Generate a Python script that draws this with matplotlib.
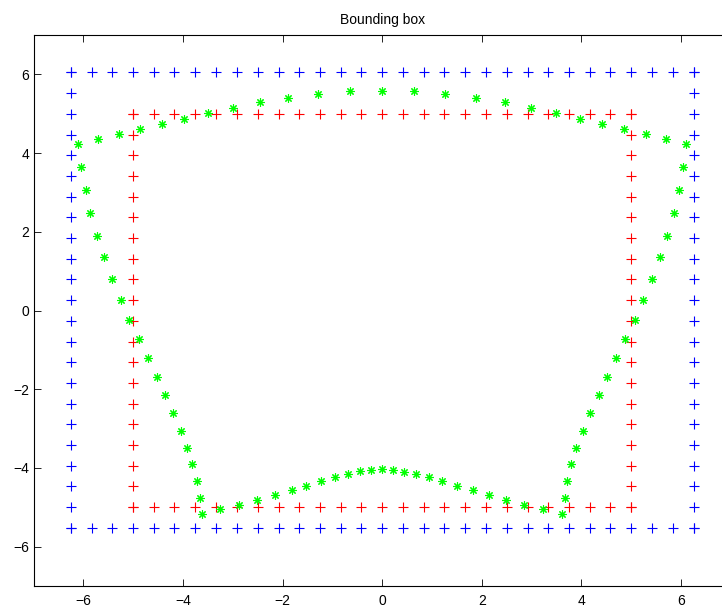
import numpy as np
import matplotlib
matplotlib.use("Agg")
import matplotlib.pyplot as plt

plt.rcParams['font.family'] = ['Liberation Sans', 'DejaVu Sans']

# Red (inner) bounding box: sample positions along horizontal and vertical edges
red_x = [-5.00, -4.58, -4.17, -3.75, -3.33, -2.92, -2.50, -2.08, -1.67, -1.25,
         -0.83, -0.42, 0.00, 0.42, 0.83, 1.25, 1.67, 2.08, 2.50, 2.92,
         3.33, 3.75, 4.17, 4.58, 5.00]
red_y = [-5.00, -4.47, -3.95, -3.42, -2.89, -2.37, -1.84, -1.32, -0.79, -0.26,
         0.26, 0.79, 1.32, 1.84, 2.37, 2.89, 3.42, 3.95, 4.47, 5.00]

# Blue (outer) bounding box
blue_x = [-6.25, -5.83, -5.42, -5.00, -4.58, -4.17, -3.75, -3.33, -2.92, -2.50,
          -2.08, -1.67, -1.25, -0.83, -0.42, 0.00, 0.42, 0.83, 1.25, 1.67,
          2.08, 2.50, 2.92, 3.33, 3.75, 4.17, 4.58, 5.00, 5.42, 5.83, 6.25]
blue_y = [-5.53, -5.00, -4.47, -3.95, -3.42, -2.89, -2.37, -1.84, -1.32, -0.79,
          -0.26, 0.26, 0.79, 1.32, 1.84, 2.37, 2.89, 3.42, 3.95, 4.47,
          5.00, 5.53, 6.05]

# Green contour points
green_x = [0.00, 0.63, 1.27, 1.88, 2.46, 2.98, 3.49, 3.97, 4.42, 4.86, 5.29, 5.70, 6.09,
           6.04, 5.95, 5.85, 5.72, 5.58, 5.41, 5.24, 5.07, 4.88, 4.70, 4.52, 4.35, 4.18,
           4.04, 3.90, 3.80, 3.72, 3.66, 3.61,
           3.23, 2.85, 2.49, 2.15, 1.83, 1.51, 1.21, 0.93, 0.68, 0.44, 0.22, 0.00,
           -0.22, -0.45, -0.68, -0.95, -1.22, -1.52, -1.82, -2.16, -2.51, -2.87, -3.25, -3.62,
           -3.66, -3.72, -3.81, -3.91, -4.04, -4.19, -4.36, -4.53, -4.71, -4.89, -5.08,
           -5.25, -5.42, -5.59, -5.73, -5.86, -5.95, -6.05, -6.10,
           -5.70, -5.28, -4.86, -4.42, -3.98, -3.49, -2.99, -2.45, -1.89, -1.28, -0.65]
green_y = [5.58, 5.57, 5.50, 5.41, 5.29, 5.15, 5.01, 4.86, 4.73, 4.60, 4.48, 4.35, 4.22,
           3.64, 3.05, 2.47, 1.89, 1.35, 0.79, 0.27, -0.25, -0.73, -1.21, -1.70, -2.15, -2.61,
           -3.06, -3.48, -3.91, -4.33, -4.75, -5.17,
           -5.05, -4.93, -4.81, -4.69, -4.57, -4.46, -4.34, -4.24, -4.15, -4.09, -4.04, -4.03,
           -4.04, -4.08, -4.15, -4.24, -4.34, -4.46, -4.57, -4.69, -4.81, -4.93, -5.04, -5.17,
           -4.75, -4.33, -3.91, -3.48, -3.06, -2.61, -2.15, -1.70, -1.21, -0.73, -0.25,
           0.27, 0.79, 1.35, 1.89, 2.47, 3.05, 3.64, 4.22,
           4.35, 4.48, 4.60, 4.73, 4.86, 5.01, 5.15, 5.29, 5.41, 5.50, 5.57]

x_ticks = [-6, -4, -2, 0, 2, 4, 6]
y_ticks = [-6, -4, -2, 0, 2, 4, 6]
title = "Bounding box"


def box_perimeter(xs, ys):
    xs = np.asarray(xs)
    ys = np.asarray(ys)
    px = np.concatenate([xs, np.full(len(ys), xs[-1]), xs[::-1], np.full(len(ys), xs[0])])
    py = np.concatenate([np.full(len(xs), ys[-1]), ys[::-1], np.full(len(xs), ys[0]), ys])
    return px, py


fig = plt.figure(figsize=(7.22, 6.08), dpi=100)
ax = fig.add_axes([0.0464, 0.0360, 0.9659, 0.9066])

bx, by = box_perimeter(blue_x, blue_y)
rx, ry = box_perimeter(red_x, red_y)
ax.plot(bx, by, linestyle='none', marker='+', color='#0000ff', markersize=7, markeredgewidth=0.8)
ax.plot(rx, ry, linestyle='none', marker='+', color='#ff0000', markersize=7, markeredgewidth=0.8)
ax.plot(green_x, green_y, linestyle='none', marker=(8, 2, 0), color='#00ff00',
        markersize=6, markeredgewidth=0.8)

ax.set_xlim(-7, 7)
ax.set_ylim(-7, 7)
ax.set_xticks(x_ticks)
ax.set_yticks(y_ticks)
ax.tick_params(direction='in', length=5, width=0.6, top=True, right=True, labelsize=10, colors='black')
ax.tick_params(axis='x', pad=6)
ax.tick_params(axis='y', pad=3)
for s in ax.spines.values():
    s.set_linewidth(0.8)
ax.set_title(title, fontsize=10, pad=8)

fig.savefig("out.png", dpi=100)
